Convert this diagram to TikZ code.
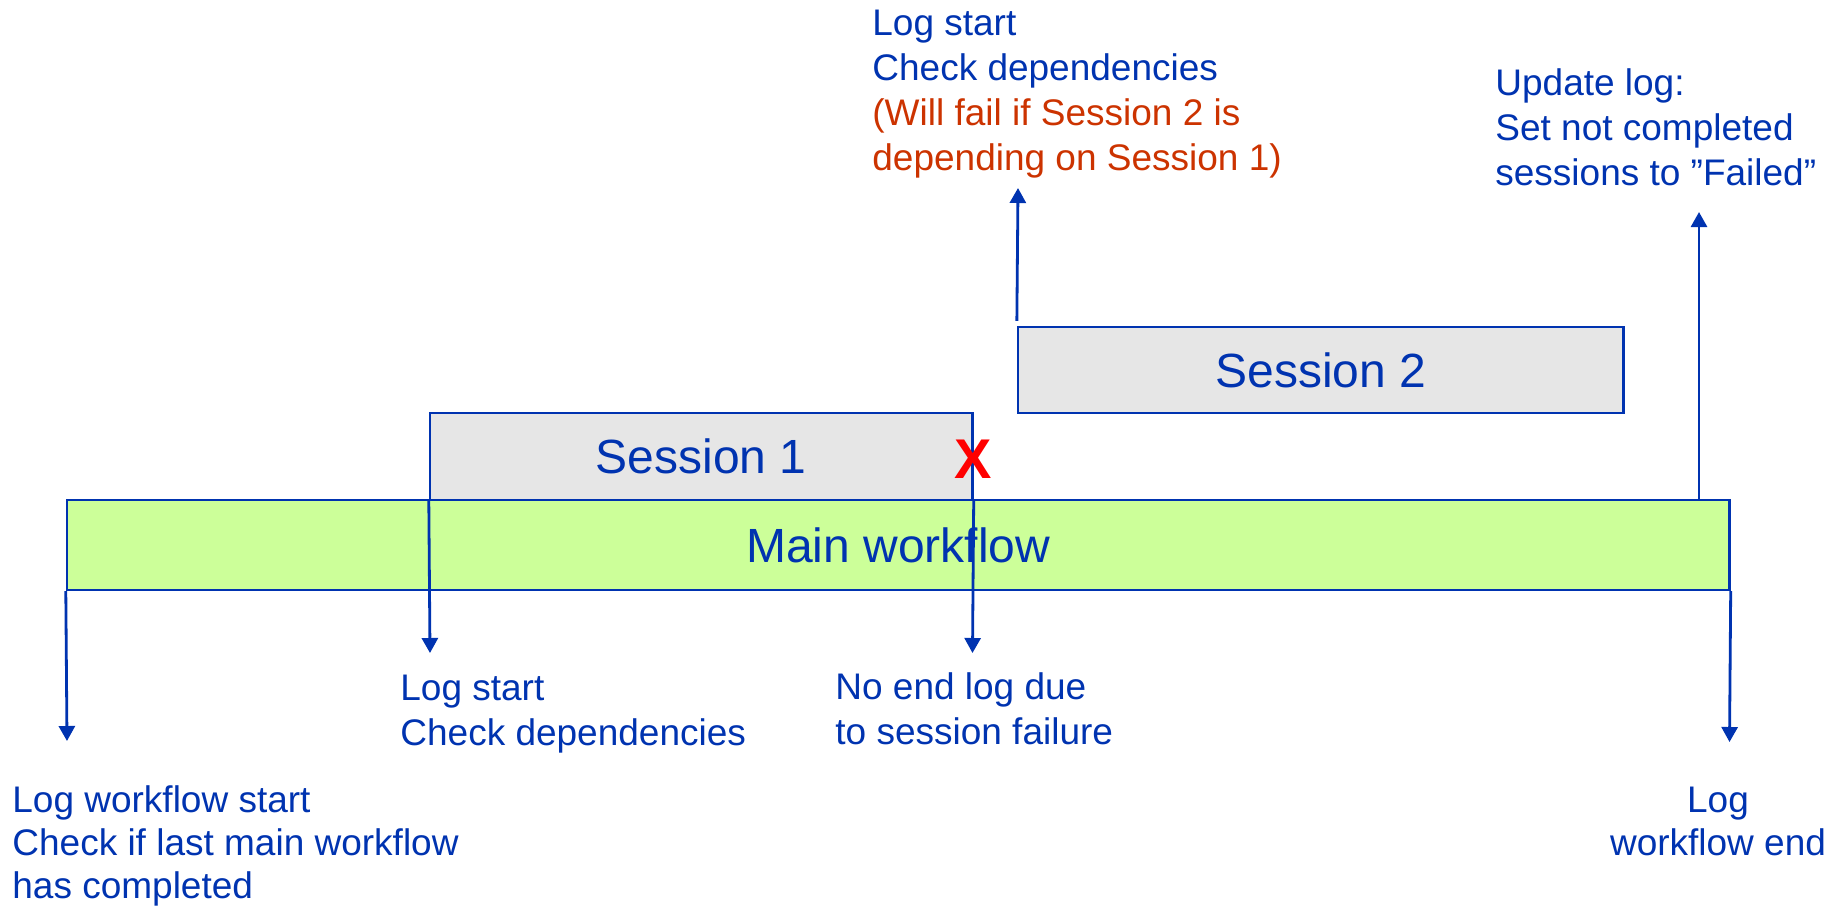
\documentclass[tikz,border=0pt]{standalone}
\usepackage{fontspec}
\setmainfont{Liberation Sans}
\usetikzlibrary{arrows.meta}
\definecolor{txtblue}{RGB}{0,51,176}
\definecolor{failred}{RGB}{204,51,0}
\definecolor{wfgreen}{RGB}{204,255,153}
\definecolor{sessgray}{RGB}{230,230,230}
\begin{document}
\begin{tikzpicture}[x=0.5pt,y=-0.5pt,
  line/.style={draw=txtblue, line width=1.4pt},
  arr/.style={line, -{Triangle[width=8pt,length=7.5pt]}},
  lbl/.style={text=txtblue, font=\fontsize{18.5}{22.5}\selectfont, align=left, inner sep=0pt, anchor=base west},
  box/.style={draw=txtblue, line width=1.2pt, inner sep=0pt, text=txtblue, font=\fontsize{24}{28}\selectfont}]
\useasboundingbox (0,0) rectangle (1846,907);
\node[box, fill=wfgreen, minimum width=831.25pt, minimum height=45pt] (main) at (898.25,545) {Main workflow};
\node[box, fill=sessgray, minimum width=271.25pt, minimum height=43.5pt] (s1) at (701.25,456.5) {Session 1};
\node[box, fill=sessgray, minimum width=302.75pt, minimum height=43pt] (s2) at (1320.75,370) {Session 2};
\node[text=red, font=\fontsize{28}{30}\selectfont\bfseries, inner sep=0pt] (x) at (973,459) {X};
\coordinate (t1) at (67,741);
\coordinate (t2) at (430,653);
\coordinate (t3) at (972.5,653);
\coordinate (t4) at (1018,188);
\coordinate (t5) at (1699,212);
\coordinate (t6) at (1729.5,742);
\draw[arr] (main.south west) -- (t1);
\draw[arr] (s1.south west) -- (t2);
\draw[arr] (s1.south east) -- (t3);
\draw[arr, shorten <=2.5pt] (s2.north west) -- (t4);
\draw[arr] (t5 |- main.north) -- (t5);
\draw[arr] (main.south east) -- (t6);
\node[lbl] (topnote) at (872,170) {Log start\\Check dependencies\\\textcolor{failred}{(Will fail if Session 2 is}\\\textcolor{failred}{depending on Session 1)}};
\node[lbl] (upd) at (1495,185) {Update log:\\Set not completed\\sessions to ”Failed”};
\node[lbl] (s1note) at (400,745) {Log start\\Check dependencies};
\node[lbl] (noend) at (835,744) {No end log due\\to session failure};
\node[lbl, font=\fontsize{18.5}{21.5}\selectfont] (wfstart) at (12,898) {Log workflow start\\Check if last main workflow\\has completed};
\node[lbl, font=\fontsize{18.5}{21.5}\selectfont, align=center, anchor=base] (wfend) at (1718,855) {Log\\workflow end};
\end{tikzpicture}
\end{document}
